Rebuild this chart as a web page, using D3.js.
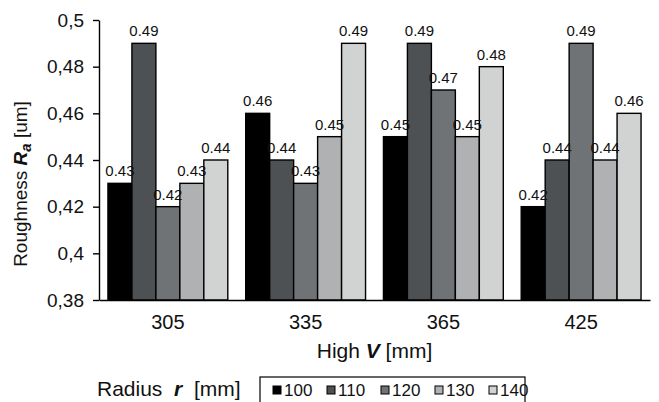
<!DOCTYPE html>
<html>
<head>
<meta charset="utf-8">
<script src="https://cdn.jsdelivr.net/npm/d3@7"></script>
<style>
  body { margin: 0; background: #fff; }
  svg text { font-family: "Liberation Sans", Arial, sans-serif; fill: #111; }
</style>
</head>
<body>
<div id="drawing"></div>
<script>
// chart data
var heights = ["305", "335", "365", "425"];
var radii = ["100", "110", "120", "130", "140"];
var r100 = [0.43, 0.46, 0.45, 0.42];
var r110 = [0.49, 0.44, 0.49, 0.44];
var r120 = [0.42, 0.43, 0.47, 0.49];
var r130 = [0.43, 0.45, 0.45, 0.44];
var r140 = [0.44, 0.49, 0.48, 0.46];
var yTicks = [0.38, 0.40, 0.42, 0.44, 0.46, 0.48, 0.50];

var series = [r100, r110, r120, r130, r140];
var colors = ["#000000", "#4e5153", "#707375", "#afb1b2", "#d1d2d2"];

var width = 659;
var height = 402;
var margin = {top: 20, right: 9, bottom: 102, left: 99};

var svg = d3.select("#drawing").append("svg")
  .attr("width", width)
  .attr("height", height);

var xScale = d3.scaleBand()
  .domain(heights)
  .range([margin.left, width - margin.right])
  .paddingInner(0.13)
  .paddingOuter(0.065);

var xInner = d3.scaleBand()
  .domain(radii)
  .range([0, xScale.bandwidth()]);

var yScale = d3.scaleLinear()
  .domain([0.38, 0.5])
  .range([height - margin.bottom, margin.top]);

// bars, one group per height
var groups = svg.append("g").selectAll("g")
  .data(heights)
  .enter().append("g")
  .attr("transform", function(d) { return "translate(" + xScale(d) + ",0)"; });

groups.selectAll("rect")
  .data(function(h, i) { return radii.map(function(r, j) { return {r: r, v: series[j][i], j: j}; }); })
  .enter().append("rect")
  .attr("x", function(d) { return xInner(d.r); })
  .attr("y", function(d) { return yScale(d.v); })
  .attr("width", xInner.bandwidth())
  .attr("height", function(d) { return yScale(0.38) - yScale(d.v); })
  .attr("fill", function(d) { return colors[d.j]; })
  .attr("stroke", "#000")
  .attr("stroke-width", 1.4);

groups.selectAll("text")
  .data(function(h, i) { return radii.map(function(r, j) { return {r: r, v: series[j][i]}; }); })
  .enter().append("text")
  .attr("x", function(d) { return xInner(d.r) + xInner.bandwidth() / 2; })
  .attr("y", function(d) { return yScale(d.v) - 7; })
  .attr("text-anchor", "middle")
  .style("font-size", "15px")
  .text(function(d) { return d.v.toFixed(2); });

// y axis
var yAxis = d3.axisLeft(yScale)
  .tickValues(yTicks)
  .tickSizeInner(6)
  .tickSizeOuter(0)
  .tickPadding(9)
  .tickFormat(function(d) { return String(+d.toFixed(2)).replace(".", ","); });

var yG = svg.append("g")
  .attr("transform", "translate(" + margin.left + ",0)")
  .call(yAxis);
yG.selectAll("text").style("font-size", "19px").attr("fill", "#111");
yG.selectAll("line, path").attr("stroke", "#000").attr("stroke-width", 1.4);

// x axis
var xAxis = d3.axisBottom(xScale)
  .tickSize(0)
  .tickPadding(15);

var xG = svg.append("g")
  .attr("transform", "translate(0," + yScale(0.38) + ")")
  .call(xAxis);
xG.selectAll("text").style("font-size", "20px").attr("fill", "#111");
xG.select("path").attr("stroke", "#000").attr("stroke-width", 1.4);

// axis titles
var yTitle = svg.append("text")
  .attr("transform", "translate(27,184) rotate(-90)")
  .attr("text-anchor", "middle")
  .style("font-size", "19px");
yTitle.append("tspan").text("Roughness ");
yTitle.append("tspan").text("R").style("font-weight", "bold").style("font-style", "italic");
yTitle.append("tspan").text("a").attr("dy", 4).style("font-weight", "bold").style("font-style", "italic").style("font-size", "15px");
yTitle.append("tspan").text(" [um]").attr("dy", -4);

var xTitle = svg.append("text")
  .attr("x", (margin.left + width - margin.right) / 2)
  .attr("y", 358)
  .attr("text-anchor", "middle")
  .style("font-size", "21px");
xTitle.append("tspan").text("High ");
xTitle.append("tspan").text("V").style("font-weight", "bold").style("font-style", "italic");
xTitle.append("tspan").text(" [mm]");

// legend
var legTitle = svg.append("text")
  .attr("x", 97)
  .attr("y", 396)
  .style("font-size", "21px")
  .style("white-space", "pre");
legTitle.append("tspan").text("Radius  ");
legTitle.append("tspan").text("r").style("font-weight", "bold").style("font-style", "italic");
legTitle.append("tspan").text("  [mm]");

svg.append("rect")
  .attr("x", 260)
  .attr("y", 377)
  .attr("width", 265)
  .attr("height", 40)
  .attr("fill", "#fff")
  .attr("stroke", "#000")
  .attr("stroke-width", 1.2);

var legItem = svg.append("g").selectAll("g")
  .data(radii)
  .enter().append("g")
  .attr("transform", function(d, i) { return "translate(" + (273 + i * 54) + ",386)"; });

legItem.append("rect")
  .attr("width", 8)
  .attr("height", 8)
  .attr("fill", function(d, i) { return colors[i]; })
  .attr("stroke", "#000")
  .attr("stroke-width", 1);

legItem.append("text")
  .attr("x", 11)
  .attr("y", 9.5)
  .style("font-size", "17px")
  .text(function(d) { return d; });
</script>
</body>
</html>
